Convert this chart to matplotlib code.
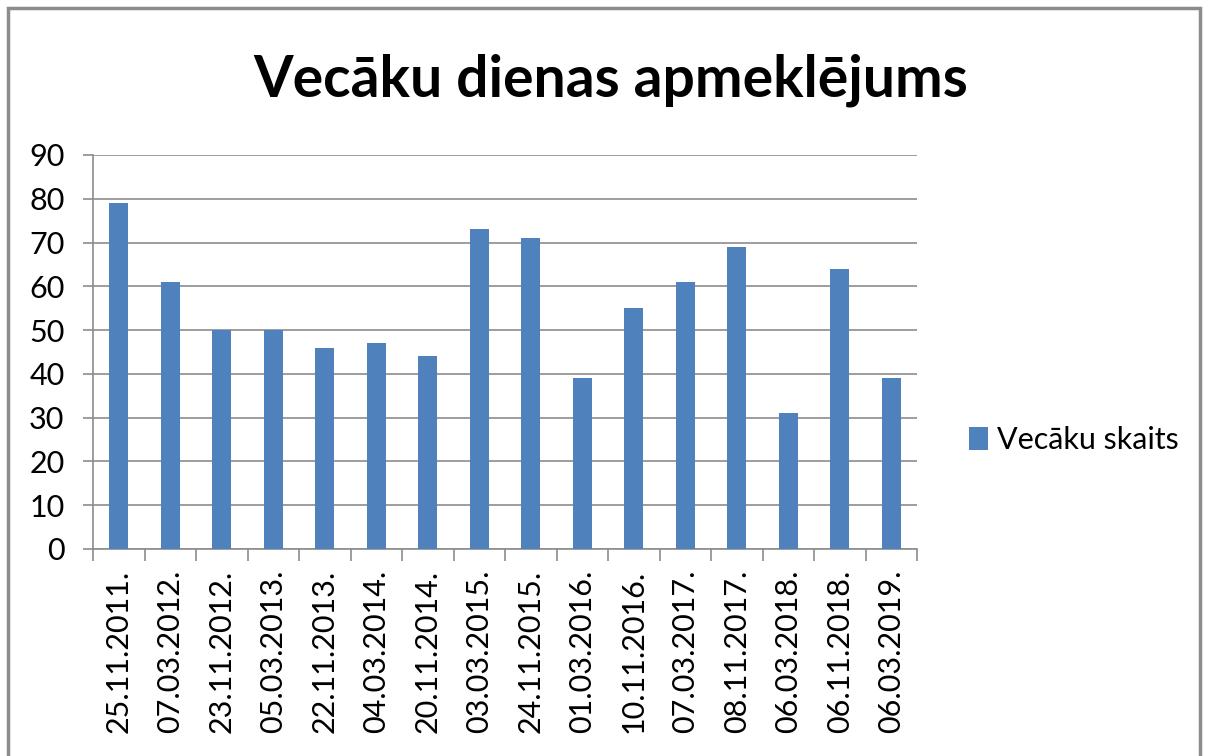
import matplotlib
matplotlib.use("Agg")
import matplotlib.pyplot as plt
from matplotlib.patches import Rectangle
import numpy as np

dates = ["25.11.2011.", "07.03.2012.", "23.11.2012.", "05.03.2013.", "22.11.2013.",
         "04.03.2014.", "20.11.2014.", "03.03.2015.", "24.11.2015.", "01.03.2016.",
         "10.11.2016.", "07.03.2017.", "08.11.2017.", "06.03.2018.", "06.11.2018.",
         "06.03.2019."]
values = [79, 61, 50, 50, 46, 47, 44, 73, 71, 39, 55, 61, 69, 31, 64, 39]
series_name = "Vecāku skaits"
title = "Vecāku dienas apmeklējums"
yticks = [0, 10, 20, 30, 40, 50, 60, 70, 80, 90]

plt.rcParams['font.family'] = ['Lato', 'DejaVu Sans']

W, H = 1205, 756
fig = plt.figure(figsize=(W / 100, H / 100), dpi=100)
fig.patch.set_facecolor("white")
fig.patches.append(Rectangle((8 / W, -0.1), (1200 - 8) / W, 1.1 - 8 / H,
                             transform=fig.transFigure, fill=False,
                             edgecolor="#8c8c8c", linewidth=2.5))

ax = fig.add_axes([93 / W, (H - 549) / H, (917 - 93) / W, (549 - 155) / H])
x = np.arange(len(values))
bars = ax.bar(x, values, width=0.37, color="#4F81BD", label=series_name, zorder=3)

ax.set_ylim(0, 90)
ax.set_xlim(-0.5, len(values) - 0.5)
ax.set_yticks(yticks)
ax.set_yticklabels([str(v) for v in yticks], fontsize=22)
ax.yaxis.grid(True, color="#8c8c8c", linewidth=1.2, zorder=0)
ax.tick_params(axis="y", length=7.5, color="#8c8c8c", width=1.2, pad=13)

ax.set_xticks(x)
ax.set_xticklabels(dates, rotation=90, fontsize=22)
ax.tick_params(axis="x", which="major", length=0, pad=15)
ax.set_xticks(np.arange(-0.5, len(values)), minor=True)
ax.tick_params(axis="x", which="minor", length=8.5, color="#8c8c8c", width=1.2)

for s in ["top", "right"]:
    ax.spines[s].set_visible(False)
for s in ["left", "bottom"]:
    ax.spines[s].set_color("#8c8c8c")
    ax.spines[s].set_linewidth(1.2)

fig.text(611 / W, 1 - 80 / H, title, ha="center", va="center",
         fontsize=41, fontweight="bold")

leg = fig.legend(handles=[bars], labels=[series_name], loc="center left",
                 bbox_to_anchor=(948 / W, 1 - 440 / H), frameon=False,
                 fontsize=22, handlelength=0.6, handleheight=0.8,
                 handletextpad=0.3, borderpad=0.2)

fig.savefig("out.png", dpi=100)
